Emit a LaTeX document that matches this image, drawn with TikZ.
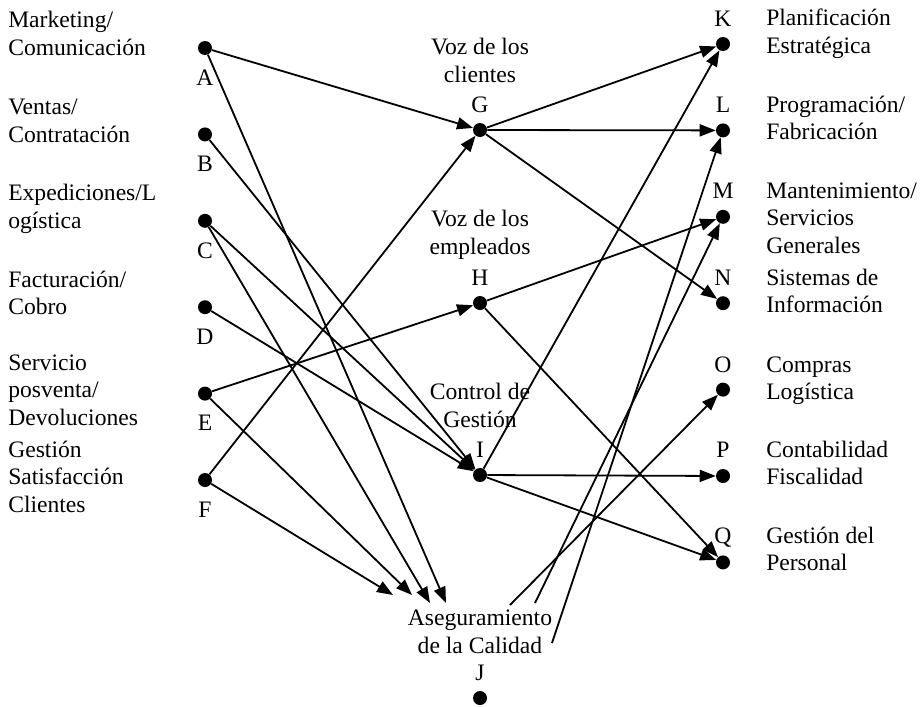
\documentclass[tikz,border=0pt]{standalone}
\usepackage{fontspec}
\setmainfont{Liberation Serif}
\usetikzlibrary{arrows.meta}

\tikzstyle{dotnode} = [circle,fill=black,inner sep=0pt,minimum size=10.5pt,node distance=64.8pt]
\tikzstyle{lettr}   = [anchor=base,inner sep=0pt]
\tikzstyle{ltxt}    = [anchor=base west,align=left,inner sep=0pt]
\tikzstyle{ctxt}    = [anchor=base,align=center,inner sep=0pt]
\tikzstyle{arr}     = [-{Triangle[length=12pt,width=9pt]},line width=1.35pt]

\begin{document}
\begin{tikzpicture}[x=0.75pt,y=-0.75pt,font=\fontsize{17.7}{20.6}\selectfont]
			\useasboundingbox (0,0) rectangle (922,707);

			\node [dotnode](A) at (205,48){};
			\node [dotnode,below of=A](B){};
			\node [dotnode,below of=B](C){};
			\node [dotnode,below of=C](D){};
			\node [dotnode,below of=D](E){};
			\node [dotnode,below of=E](F){};

			\node [lettr](la) at (205,85){A};
			\node [lettr](lb) at (205,171){B};
			\node [lettr](lc) at (205,258){C};
			\node [lettr](ld) at (205,344){D};
			\node [lettr](le) at (205,430){E};
			\node [lettr](lf) at (205,517){F};

			% base anchor sits on the last line
			\node [ltxt](ta) at (8,55){Marketing/\\Comunicación};
			\node [ltxt](tb) at (8,142){Ventas/\\Contratación};
			\node [ltxt](tc) at (8,228){Expediciones/L\\ogística};
			\node [ltxt](td) at (8,314.5){Facturación/\\Cobro};
			\node [ltxt](te) at (8,425){Servicio\\posventa/\\Devoluciones};
			\node [ltxt](tf) at (8,512){Gestión\\Satisfacción\\Clientes};

			\node [dotnode](G) at (480,130){};
			\node [dotnode](H) at (480,303){};
			\node [dotnode](I) at (480,475){};
			\node [dotnode](J) at (480,698){};

			\node [ctxt](tg) at (480,82){Voz de los\\clientes};
			\node [lettr](lg) at (480,112){G};
			\node [ctxt](th) at (480,254){Voz de los\\empleados};
			\node [lettr](lh) at (480,285){H};
			\node [ctxt](ti) at (480,427){Control de\\Gestión};
			\node [lettr](li) at (480,457){I};
			\node [ctxt](tj) at (480,653){Aseguramiento\\de la Calidad};
			\node [lettr](lj) at (480,680){J};

			\node [dotnode](K) at (723,44){};
			\node [dotnode,below of=K](L){};
			\node [dotnode,below of=L](M){};
			\node [dotnode,below of=M](N){};
			\node [dotnode,below of=N](O){};
			\node [dotnode,below of=O](P){};
			\node [dotnode,below of=P](Q){};

			\node [lettr](lk) at (723,26){K};
			\node [lettr](ll) at (723,112){L};
			\node [lettr](lm) at (723,198){M};
			\node [lettr](ln) at (723,285){N};
			\node [lettr](lo) at (723,372){O};
			\node [lettr](lp) at (723,457){P};
			\node [lettr](lq) at (723,543){Q};

			\node [ltxt](tk) at (766,53){Planificación\\Estratégica};
			\node [ltxt](tl) at (766,139.5){Programación/\\Fabricación};
			\node [ltxt](tm) at (766,253){Mantenimiento/\\Servicios\\Generales};
			\node [ltxt](tn) at (766,312.5){Sistemas de\\Información};
			\node [ltxt](to) at (766,399.5){Compras\\Logística};
			\node [ltxt](tp) at (766,484.5){Contabilidad\\Fiscalidad};
			\node [ltxt](tq) at (766,570.5){Gestión del\\Personal};

			% ends at the Aseguramiento text
			\coordinate (jF) at (393,595);
			\coordinate (jE) at (412,595);
			\coordinate (jC) at (430,603);
			\coordinate (jA) at (446,603);
			\coordinate (jO) at (510,605);
			\coordinate (jM) at (535,603);
			\coordinate (jL) at (552,643);

			\draw [arr](A) -- (G);
			\draw [arr](A) -- (jA);
			\draw [arr](B) -- (I);
			\draw [arr](C) -- (I);
			\draw [arr](C) -- (jC);
			\draw [arr](D) -- (I);
			\draw [arr](E) -- (H);
			\draw [arr](E) -- (jE);
			\draw [arr](F) -- (G);
			\draw [arr](F) -- (jF);

			\draw [arr](G) -- (K);
			\draw [arr](G) -- (L);
			\draw [arr](G) -- (N);
			\draw [arr](H) -- (M);
			\draw [arr](H) -- (Q);
			\draw [arr](I) -- (K);
			\draw [arr](I) -- (P);
			\draw [arr](I) -- (Q);

			\draw [arr](jO) -- (O);
			\draw [arr](jM) -- (M);
			\draw [arr](jL) -- (L);
			\end{tikzpicture}
\end{document}
